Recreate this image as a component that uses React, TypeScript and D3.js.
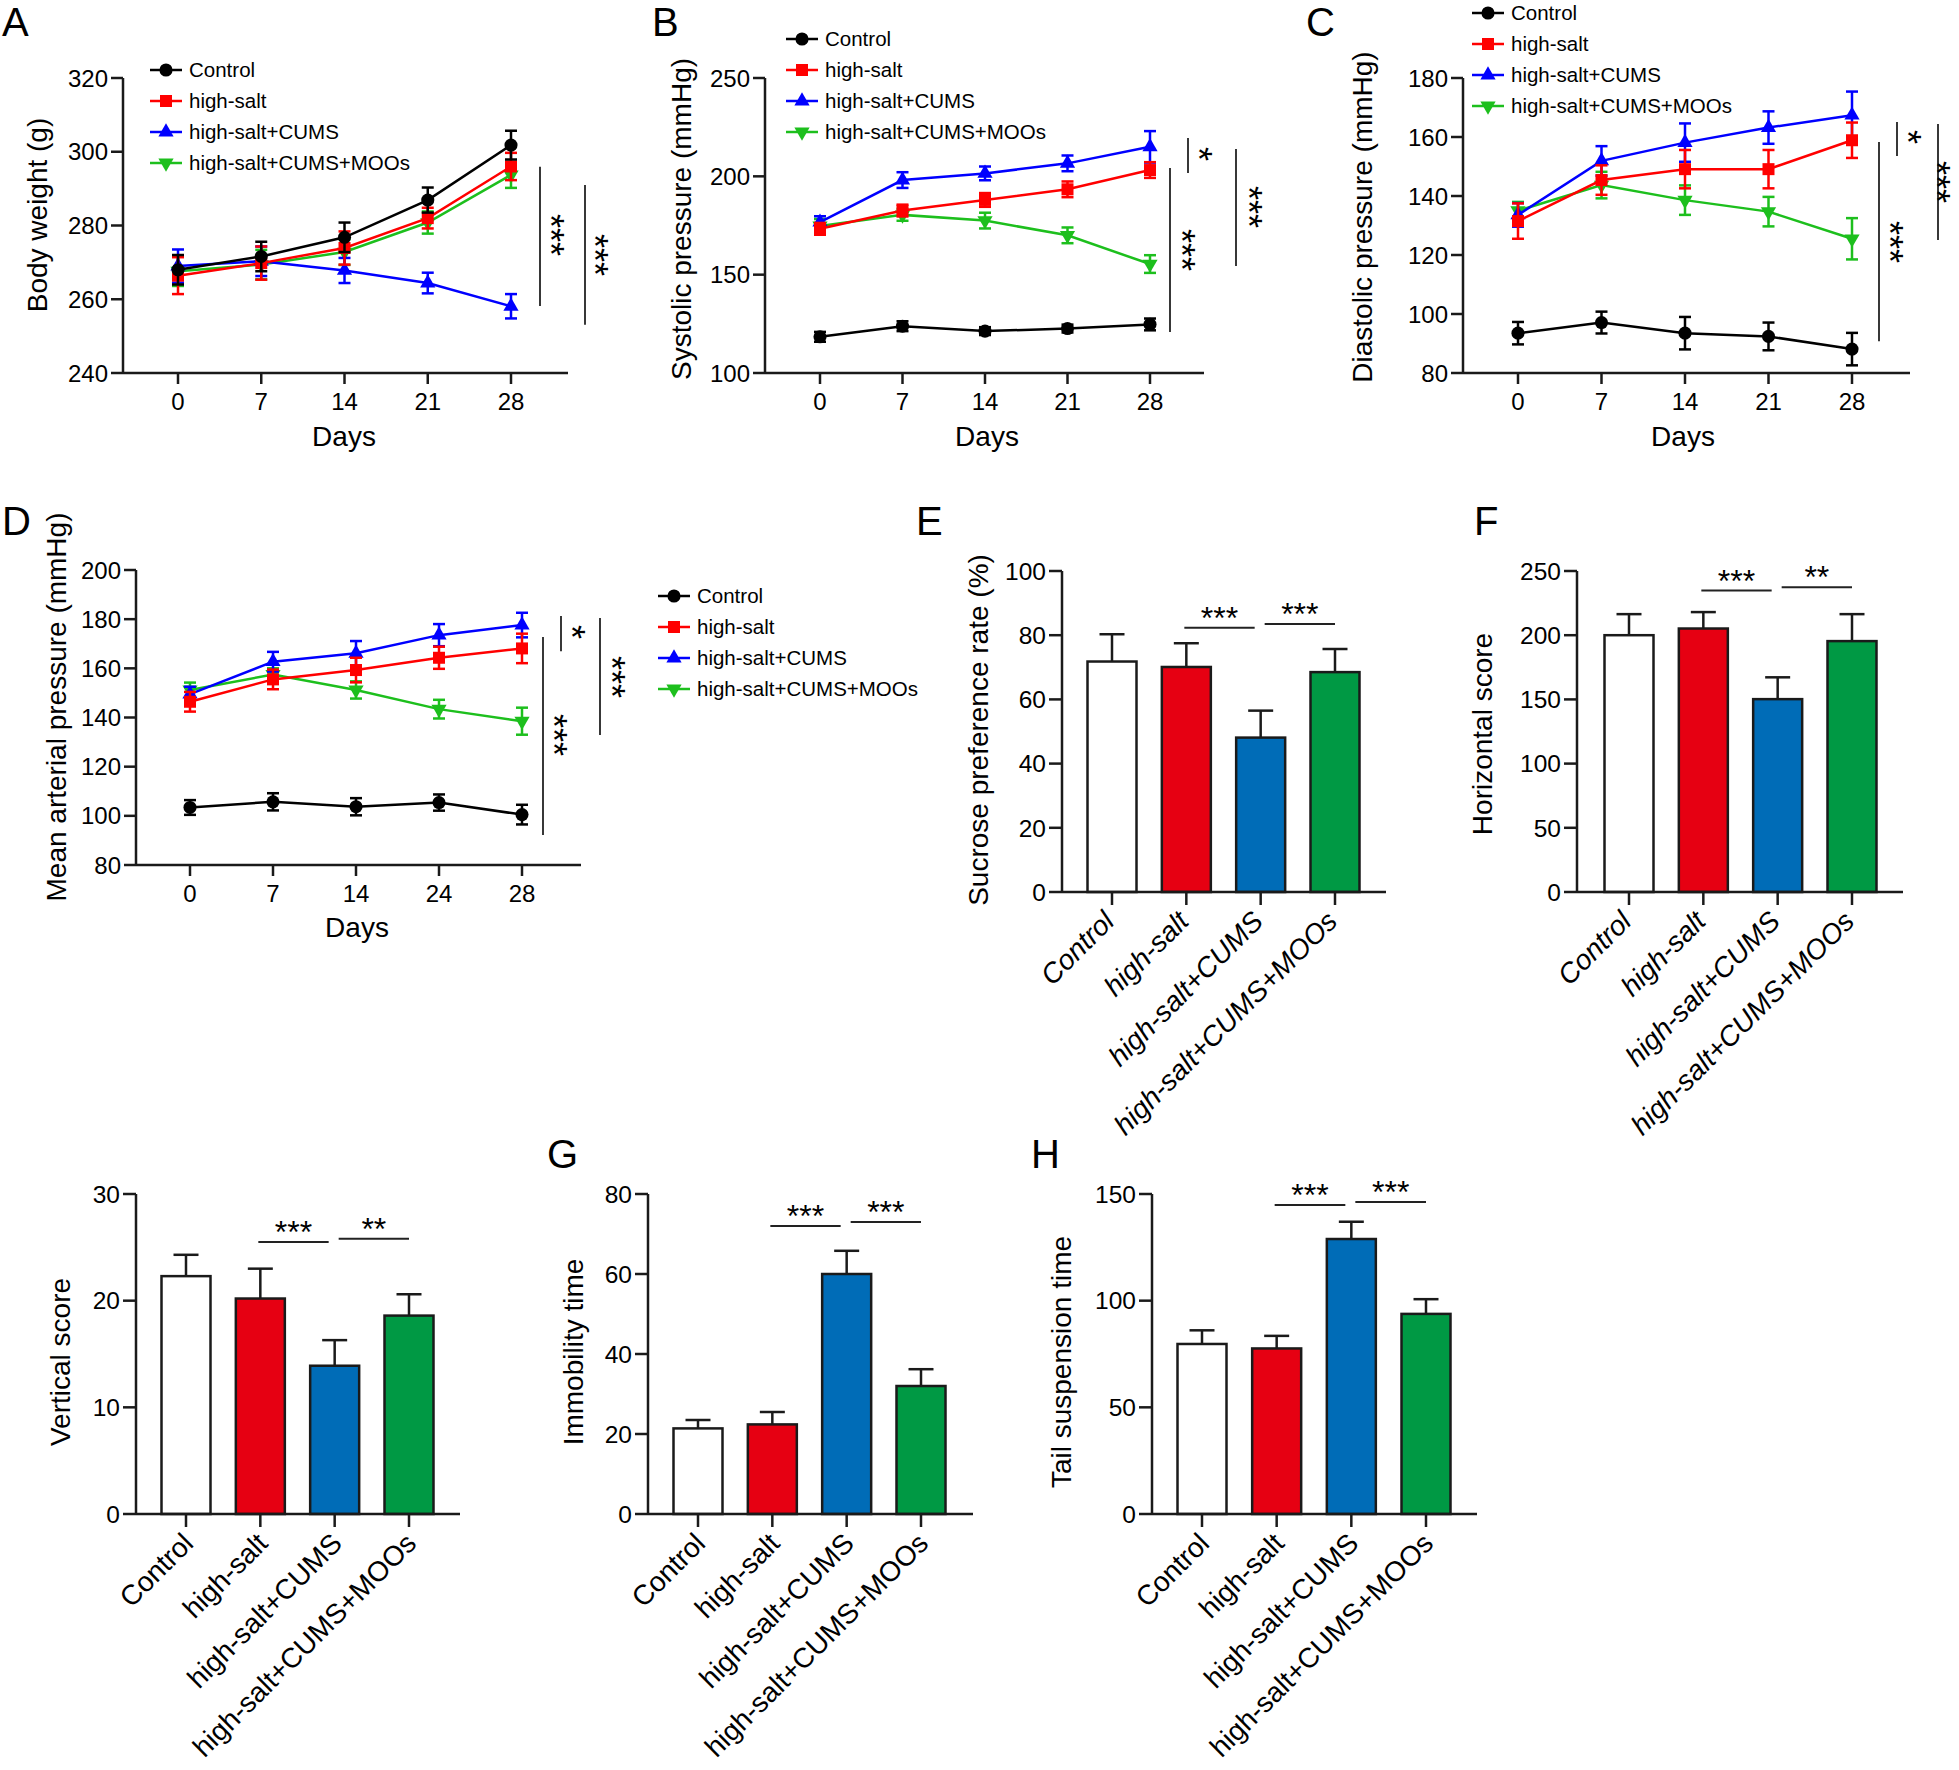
import React from 'react';
import * as d3 from 'd3';

const FONT = 'Arial, "Liberation Sans", Helvetica, sans-serif';

const groups = ['Control', 'high-salt', 'high-salt+CUMS', 'high-salt+CUMS+MOOs'];
const lineColors = ['#000000', '#ff0000', '#0000ff', '#1dbf1d'];
const barFills = ['#ffffff', '#e60012', '#006cb7', '#009944'];

const daysWeekly = ['0', '7', '14', '21', '28'];
const daysMap = ['0', '7', '14', '24', '28'];

// A: body weight
const weightTicks = [240, 260, 280, 300, 320];
const weightMean = [
  [268, 271.6, 276.8, 286.9, 301.8],
  [266.4, 269.8, 273.9, 282, 296],
  [269, 270.3, 267.8, 264.4, 258.1],
  [267.6, 269.4, 272.8, 280.8, 293.7],
];
const weightErr = [
  [4, 4, 4, 3.4, 3.9],
  [5, 4.5, 4.5, 2.8, 3.7],
  [4.5, 4, 3.4, 2.8, 3.3],
  [4, 4, 3.5, 3, 3.5],
];

// B: systolic pressure
const sbpTicks = [100, 150, 200, 250];
const sbpMean = [
  [118.4, 123.8, 121.3, 122.6, 124.7],
  [173.3, 182.6, 188, 193.4, 203.2],
  [176.7, 198.1, 201.5, 206.6, 215],
  [174.8, 180.4, 177.5, 170, 155.4],
];
const sbpErr = [
  [2.5, 2.5, 2, 2, 3],
  [3, 3, 3.5, 4, 4],
  [3, 4, 3.5, 4, 8],
  [3.5, 3, 4, 4, 4.5],
];

// C: diastolic pressure
const dbpTicks = [80, 100, 120, 140, 160, 180];
const dbpMean = [
  [93.5, 97.1, 93.5, 92.4, 88.1],
  [131.5, 145.4, 149.1, 149.1, 158.9],
  [133.6, 151.9, 158.1, 163.2, 167.4],
  [135, 143.7, 138.6, 134.7, 125.5],
];
const dbpErr = [
  [3.8, 3.7, 5.5, 4.7, 5.5],
  [6, 5, 6.5, 6.5, 6],
  [4, 5, 6.5, 5.5, 8],
  [3, 4.5, 5, 5, 7],
];

// D: mean arterial pressure
const mapTicks = [80, 100, 120, 140, 160, 180, 200];
const mapMean = [
  [103.4, 105.7, 103.7, 105.4, 100.5],
  [146.4, 155.5, 159.3, 164.3, 168.1],
  [149.5, 162.7, 166.1, 173.5, 177.6],
  [151.2, 157.5, 151.2, 143.4, 138.5],
];
const mapErr = [
  [3, 3.5, 3.5, 3.3, 4],
  [4, 4, 5, 4.5, 6],
  [3, 4, 5, 4.5, 5],
  [3, 2.5, 3.5, 3.8, 5.5],
];

// E-H bar data
const sucroseTicks = [0, 20, 40, 60, 80, 100];
const sucroseMean = [71.8, 70.1, 48.1, 68.5];
const sucroseErr = [8.5, 7.4, 8.4, 7.2];

const horizontalTicks = [0, 50, 100, 150, 200, 250];
const horizontalMean = [200, 205.2, 150.2, 195.4];
const horizontalErr = [16.4, 12.8, 17, 21];

const verticalTicks = [0, 10, 20, 30];
const verticalMean = [22.3, 20.2, 13.9, 18.6];
const verticalErr = [2, 2.8, 2.4, 2];

const immobilityTicks = [0, 20, 40, 60, 80];
const immobilityMean = [21.4, 22.4, 60, 32];
const immobilityErr = [2.1, 3.1, 5.8, 4.2];

const tailTicks = [0, 50, 100, 150];
const tailMean = [79.7, 77.6, 128.9, 93.8];
const tailErr = [6.4, 5.9, 8.1, 6.9];

const sucroseSig = [{ from: 1, to: 2, label: '***', value: 82.3 }, { from: 2, to: 3, label: '***', value: 83.5 }];
const horizontalSig = [{ from: 1, to: 2, label: '***', value: 234.8 }, { from: 2, to: 3, label: '**', value: 237.4 }];
const verticalSig = [{ from: 1, to: 2, label: '***', value: 25.5 }, { from: 2, to: 3, label: '**', value: 25.8 }];
const immobilitySig = [{ from: 1, to: 2, label: '***', value: 72 }, { from: 2, to: 3, label: '***', value: 73 }];
const tailSig = [{ from: 1, to: 2, label: '***', value: 144.8 }, { from: 2, to: 3, label: '***', value: 146.3 }];

const symbolTypes = [d3.symbolCircle, d3.symbolSquare, d3.symbolTriangle, d3.symbolTriangle];
const symbolSizes = [135, 144, 100, 100];

function Marker({ s, x, y }: { s: number; x: number; y: number }) {
  const p = d3.symbol().type(symbolTypes[s]).size(symbolSizes[s])() || '';
  return <path d={p} transform={`translate(${x},${y})${s === 3 ? ' rotate(180)' : ''}`} fill={lineColors[s]} />;
}

const lineCfgs = [
  {
    letter: 'A', letterPos: [2, 36], yLabel: 'Body weight (g)', yLabelPos: [37, 215],
    axisX: 123, x0: 178, x1: 511, xEnd: 568, yTop: 78, yBottom: 373,
    ticks: weightTicks, days: daysWeekly, means: weightMean, errs: weightErr,
    legend: [150, 70], daysPos: [344, 446],
    brackets: [
      { x: 540, v1: 295.9, v2: 258.2, label: '***', lx: 559, ly: 235 },
      { x: 585, v1: 291, v2: 253.1, label: '***', lx: 603, ly: 255 },
    ],
  },
  {
    letter: 'B', letterPos: [652, 36], yLabel: 'Systolic pressure (mmHg)', yLabelPos: [681, 219],
    axisX: 765, x0: 820, x1: 1150, xEnd: 1204, yTop: 78, yBottom: 373,
    ticks: sbpTicks, days: daysWeekly, means: sbpMean, errs: sbpErr,
    legend: [786, 39], daysPos: [987, 446],
    brackets: [
      { x: 1188, v1: 219.5, v2: 201.7, label: '*', lx: 1207, ly: 154 },
      { x: 1170, v1: 204.2, v2: 120.9, label: '***', lx: 1190, ly: 250 },
      { x: 1236, v1: 213.9, v2: 154.4, label: '***', lx: 1257, ly: 207 },
    ],
  },
  {
    letter: 'C', letterPos: [1306, 36], yLabel: 'Diastolic pressure (mmHg)', yLabelPos: [1362, 217],
    axisX: 1463, x0: 1518, x1: 1852, xEnd: 1910, yTop: 78, yBottom: 373,
    ticks: dbpTicks, days: daysWeekly, means: dbpMean, errs: dbpErr,
    legend: [1472, 13], daysPos: [1683, 446],
    brackets: [
      { x: 1897, v1: 165.1, v2: 153.6, label: '*', lx: 1916, ly: 137 },
      { x: 1879, v1: 158.3, v2: 90.8, label: '***', lx: 1898, ly: 242 },
      { x: 1938, v1: 164.4, v2: 125.1, label: '***', lx: 1945, ly: 182 },
    ],
  },
  {
    letter: 'D', letterPos: [2, 535], yLabel: 'Mean arterial pressure (mmHg)', yLabelPos: [56, 707],
    axisX: 136, x0: 190, x1: 522, xEnd: 581, yTop: 570, yBottom: 865,
    ticks: mapTicks, days: daysMap, means: mapMean, errs: mapErr,
    legend: [658, 596], daysPos: [357, 937],
    brackets: [
      { x: 561, v1: 181.3, v2: 167, label: '*', lx: 580, ly: 632 },
      { x: 543, v1: 172.7, v2: 92.2, label: '***', lx: 562, ly: 735 },
      { x: 600, v1: 180.5, v2: 132.9, label: '***', lx: 620, ly: 677 },
    ],
  },
];

const barCfgs = [
  {
    letter: 'E', letterPos: [916, 535], yLabel: 'Sucrose preference rate (%)', yLabelPos: [978, 730],
    axisX: 1062, c0: 1112, c3: 1335, xEnd: 1386, yTop: 571, yBottom: 892,
    ticks: sucroseTicks, means: sucroseMean, errs: sucroseErr, sig: sucroseSig, italic: true,
  },
  {
    letter: 'F', letterPos: [1474, 535], yLabel: 'Horizontal score', yLabelPos: [1482, 734],
    axisX: 1577, c0: 1629, c3: 1852, xEnd: 1903, yTop: 571, yBottom: 892,
    ticks: horizontalTicks, means: horizontalMean, errs: horizontalErr, sig: horizontalSig, italic: true,
  },
  {
    letter: '', letterPos: [0, 0], yLabel: 'Vertical score', yLabelPos: [60, 1362],
    axisX: 136, c0: 186, c3: 409, xEnd: 460, yTop: 1194, yBottom: 1514,
    ticks: verticalTicks, means: verticalMean, errs: verticalErr, sig: verticalSig, italic: false,
  },
  {
    letter: 'G', letterPos: [547, 1168], yLabel: 'Immobility time', yLabelPos: [573, 1352],
    axisX: 648, c0: 698, c3: 921, xEnd: 973, yTop: 1194, yBottom: 1514,
    ticks: immobilityTicks, means: immobilityMean, errs: immobilityErr, sig: immobilitySig, italic: false,
  },
  {
    letter: 'H', letterPos: [1031, 1168], yLabel: 'Tail suspension time', yLabelPos: [1061, 1362],
    axisX: 1152, c0: 1202, c3: 1426, xEnd: 1477, yTop: 1194, yBottom: 1514,
    ticks: tailTicks, means: tailMean, errs: tailErr, sig: tailSig, italic: false,
  },
];

const AX = '#1a1a1a';

function LineChart({ c }: { c: any }) {
  const x = d3.scalePoint<string>().domain(c.days).range([c.x0, c.x1]);
  const y = d3.scaleLinear().domain([c.ticks[0], c.ticks[c.ticks.length - 1]]).range([c.yBottom, c.yTop]);
  const line = d3.line<number>().x((_, i) => x(c.days[i]) as number).y((d) => y(d));
  const order = [3, 2, 1, 0];
  const starFs = 36;
  return (
    <g>
      <text x={c.letterPos[0]} y={c.letterPos[1]} fontSize={40}>{c.letter}</text>
      <text transform={`translate(${c.yLabelPos[0]},${c.yLabelPos[1]}) rotate(-90)`} textAnchor="middle" dy="0.35em" fontSize={28}>{c.yLabel}</text>
      <line x1={c.axisX} x2={c.axisX} y1={c.yTop} y2={c.yBottom} stroke={AX} strokeWidth={2.5} />
      <line x1={c.axisX} x2={c.xEnd} y1={c.yBottom} y2={c.yBottom} stroke={AX} strokeWidth={2.5} />
      {c.ticks.map((t: number) => (
        <g key={t}>
          <line x1={c.axisX - 12} x2={c.axisX} y1={y(t)} y2={y(t)} stroke={AX} strokeWidth={2.5} />
          <text x={c.axisX - 15} y={y(t)} dy="0.36em" textAnchor="end" fontSize={24}>{t}</text>
        </g>
      ))}
      {c.days.map((d: string) => (
        <g key={d}>
          <line x1={x(d)} x2={x(d)} y1={c.yBottom} y2={c.yBottom + 11} stroke={AX} strokeWidth={2.5} />
          <text x={x(d)} y={c.yBottom + 37} textAnchor="middle" fontSize={24}>{d}</text>
        </g>
      ))}
      <text x={c.daysPos[0]} y={c.daysPos[1]} textAnchor="middle" fontSize={28}>Days</text>
      {order.map((s) => (
        <g key={s}>
          <path d={line(c.means[s]) || ''} fill="none" stroke={lineColors[s]} strokeWidth={2.5} />
          {c.means[s].map((m: number, i: number) => {
            const xx = x(c.days[i]) as number;
            const lo = y(m - c.errs[s][i]);
            const hi = y(m + c.errs[s][i]);
            return (
              <g key={i} stroke={lineColors[s]} strokeWidth={2.5}>
                <line x1={xx} x2={xx} y1={lo} y2={hi} />
                <line x1={xx - 6} x2={xx + 6} y1={lo} y2={lo} />
                <line x1={xx - 6} x2={xx + 6} y1={hi} y2={hi} />
              </g>
            );
          })}
          {c.means[s].map((m: number, i: number) => (
            <Marker key={i} s={s} x={x(c.days[i]) as number} y={y(m)} />
          ))}
        </g>
      ))}
      {groups.map((g, i) => {
        const ly = c.legend[1] + i * 31;
        const lx = c.legend[0];
        return (
          <g key={g}>
            <line x1={lx} x2={lx + 32} y1={ly} y2={ly} stroke={lineColors[i]} strokeWidth={2.5} />
            <Marker s={i} x={lx + 16} y={ly} />
            <text x={lx + 39} y={ly} dy="0.36em" fontSize={20.5}>{g}</text>
          </g>
        );
      })}
      {c.brackets.map((b: any, i: number) => (
        <g key={i}>
          <line x1={b.x} x2={b.x} y1={y(b.v1)} y2={y(b.v2)} stroke="#222" strokeWidth={1.8} />
          <text transform={`translate(${b.lx - 0.58 * starFs},${b.ly}) rotate(90)`} textAnchor="middle" fontSize={starFs}>{b.label}</text>
        </g>
      ))}
    </g>
  );
}

function BarChart({ c }: { c: any }) {
  const x = d3.scalePoint<string>().domain(groups).range([c.c0, c.c3]);
  const y = d3.scaleLinear().domain([c.ticks[0], c.ticks[c.ticks.length - 1]]).range([c.yBottom, c.yTop]);
  const bw = 49;
  return (
    <g>
      {c.letter && <text x={c.letterPos[0]} y={c.letterPos[1]} fontSize={40}>{c.letter}</text>}
      <text transform={`translate(${c.yLabelPos[0]},${c.yLabelPos[1]}) rotate(-90)`} textAnchor="middle" dy="0.35em" fontSize={28}>{c.yLabel}</text>
      {groups.map((g, i) => {
        const cx = x(g) as number;
        const top = y(c.means[i]);
        const eTop = y(c.means[i] + c.errs[i]);
        return (
          <g key={g}>
            <line x1={cx} x2={cx} y1={top} y2={eTop} stroke={AX} strokeWidth={2.5} />
            <line x1={cx - 12.5} x2={cx + 12.5} y1={eTop} y2={eTop} stroke={AX} strokeWidth={2.5} />
            <rect x={cx - bw / 2} y={top} width={bw} height={y(0) - top} fill={barFills[i]} stroke={AX} strokeWidth={2.5} />
          </g>
        );
      })}
      <line x1={c.axisX} x2={c.axisX} y1={c.yTop} y2={c.yBottom} stroke={AX} strokeWidth={2.5} />
      <line x1={c.axisX} x2={c.xEnd} y1={c.yBottom} y2={c.yBottom} stroke={AX} strokeWidth={2.5} />
      {c.ticks.map((t: number) => (
        <g key={t}>
          <line x1={c.axisX - 13} x2={c.axisX} y1={y(t)} y2={y(t)} stroke={AX} strokeWidth={2.5} />
          <text x={c.axisX - 16} y={y(t)} dy="0.36em" textAnchor="end" fontSize={24.5}>{t}</text>
        </g>
      ))}
      {groups.map((g) => {
        const cx = x(g) as number;
        const ox = c.italic ? 4 : 9;
        return (
          <g key={g}>
            <line x1={cx} x2={cx} y1={c.yBottom} y2={c.yBottom + 13} stroke={AX} strokeWidth={2.5} />
            <text transform={`translate(${cx + ox},${c.yBottom + 31}) rotate(-45)`} textAnchor="end" fontSize={28} fontStyle={c.italic ? 'italic' : 'normal'}>{g}</text>
          </g>
        );
      })}
      {c.sig.map((s: any, i: number) => {
        const x1 = (x(groups[s.from]) as number) + (s.from > 1 ? 4 : -2);
        const x2 = (x(groups[s.to]) as number) - (s.to < 3 ? 6 : 0);
        const yy = y(s.value);
        return (
          <g key={i}>
            <line x1={x1} x2={x2} y1={yy} y2={yy} stroke="#222" strokeWidth={2} />
            <text x={(x1 + x2) / 2} y={yy + 1} textAnchor="middle" fontSize={32}>{s.label}</text>
          </g>
        );
      })}
    </g>
  );
}

export default function App() {
  return (
    <svg width={1959} height={1770} style={{ position: 'absolute', left: 0, top: 0, background: '#fff' }} fontFamily={FONT}>
      <rect width={1959} height={1770} fill="#fff" />
      {lineCfgs.map((c) => <LineChart key={c.letter} c={c} />)}
      {barCfgs.map((c, i) => <BarChart key={i} c={c} />)}
    </svg>
  );
}
